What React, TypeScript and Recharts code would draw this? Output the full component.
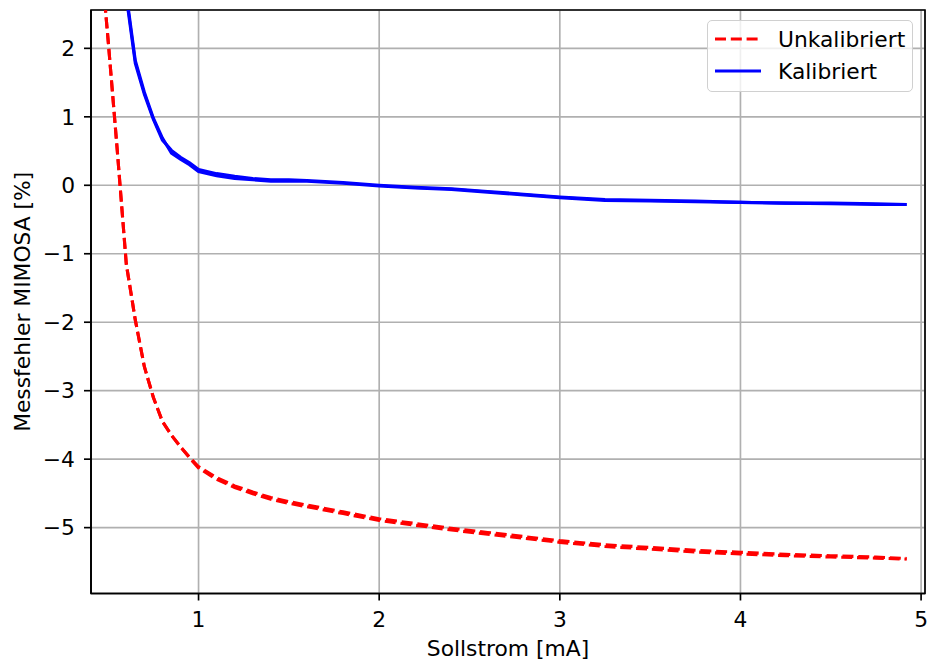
import {
  LineChart,
  Line,
  XAxis,
  YAxis,
  CartesianGrid,
  Legend,
  ReferenceArea,
} from "recharts";

// Sollstrom in mA
const currentMa = [
  0.45, 0.5, 0.55, 0.6, 0.65, 0.7, 0.75, 0.8, 0.85, 0.9, 0.95, 1.0, 1.1, 1.2,
  1.3, 1.4, 1.5, 1.6, 1.8, 2.0, 2.2, 2.4, 2.6, 2.8, 3.0, 3.25, 3.5, 3.75, 4.0,
  4.25, 4.5, 4.75, 4.92,
];

// Messfehler in %, Hin- und Rücklauf
const uncalibratedUp = [
  3.6, 2.1, 0.51, -1.15, -1.97, -2.65, -3.1, -3.45, -3.65, -3.82, -3.97,
  -4.11, -4.27, -4.39, -4.48, -4.56, -4.62, -4.67, -4.77, -4.87, -4.94, -5.01,
  -5.07, -5.13, -5.19, -5.25, -5.29, -5.33, -5.36, -5.39, -5.41, -5.43, -5.45,
];
const uncalibratedDown = [
  3.6, 2.1, 0.51, -1.15, -1.97, -2.65, -3.1, -3.45, -3.65, -3.82, -3.98,
  -4.13, -4.295, -4.415, -4.505, -4.585, -4.645, -4.695, -4.795, -4.895,
  -4.965, -5.035, -5.095, -5.155, -5.215, -5.275, -5.315, -5.355, -5.385,
  -5.41, -5.43, -5.445, -5.46,
];

const calibratedUp = [
  null, null, 4.5, 2.75, 1.78, 1.33, 0.96, 0.66, 0.51, 0.41, 0.33, 0.23, 0.17,
  0.13, 0.1, 0.08, 0.08, 0.07, 0.04, 0.0, -0.03, -0.05, -0.09, -0.13, -0.17,
  -0.21, -0.22, -0.23, -0.25, -0.26, -0.26, -0.27, -0.28,
];
const calibratedDown = [
  null, null, 4.6, 2.8, 1.82, 1.36, 0.98, 0.69, 0.47, 0.38, 0.3, 0.2, 0.14,
  0.1, 0.08, 0.06, 0.06, 0.06, 0.03, -0.01, -0.04, -0.06, -0.1, -0.14, -0.18,
  -0.22, -0.23, -0.24, -0.25, -0.26, -0.27, -0.28, -0.28,
];

const xTicks = [1, 2, 3, 4, 5];
const yTicks = [-5, -4, -3, -2, -1, 0, 1, 2];
const xDomain: [number, number] = [0.4046, 5.0216];
const yDomain: [number, number] = [-5.962, 2.56];

const legendItems = [
  { name: "Unkalibriert", color: "#ff0000", dash: "11 4.8" },
  { name: "Kalibriert", color: "#0000ff", dash: undefined },
];

const data = currentMa.map((x, i) => ({
  x,
  unkalUp: uncalibratedUp[i],
  unkalDown: uncalibratedDown[i],
  kalUp: calibratedUp[i],
  kalDown: calibratedDown[i],
}));

const FONT = "DejaVu Sans";
const FS = 21.8;

const fmt = (v: number) => (v < 0 ? `\u2212${Math.abs(v)}` : `${v}`);

function LegendBox() {
  return (
    <div
      style={{
        width: 206,
        height: 72,
        boxSizing: "border-box",
        border: "1.5px solid #d0d0d0",
        borderRadius: 5,
        background: "rgba(255,255,255,0.8)",
      }}
    >
      <svg width={204} height={69} style={{ display: "block" }}>
        {legendItems.map((item, i) => {
          const y = 18 + i * 32;
          return (
            <g key={item.name}>
              <line
                x1={7}
                x2={53}
                y1={y}
                y2={y}
                stroke={item.color}
                strokeWidth={3.1}
                strokeDasharray={item.dash}
              />
              <text
                x={70}
                y={y}
                dominantBaseline="central"
                fontFamily={FONT}
                fontSize={FS}
                fill="#000"
              >
                {item.name}
              </text>
            </g>
          );
        })}
      </svg>
    </div>
  );
}

export default function App() {
  return (
    <div style={{ position: "absolute", left: 0, top: 0, background: "#fff" }}>
      <LineChart
        width={932}
        height={664}
        data={data}
        margin={{ top: 10, right: 7, bottom: 0, left: 0 }}
      >
        <CartesianGrid stroke="#b0b0b0" strokeWidth={1.67} />
        <XAxis
          dataKey="x"
          type="number"
          domain={xDomain}
          allowDataOverflow
          ticks={xTicks}
          tickFormatter={fmt}
          height={70.5}
          tickSize={7}
          tickMargin={11}
          tick={{ fill: "#000", fontSize: FS, fontFamily: FONT }}
          tickLine={{ stroke: "#000", strokeWidth: 1.67 }}
          axisLine={{ stroke: "#000", strokeWidth: 1.67 }}
          label={{
            value: "Sollstrom [mA]",
            position: "insideBottom",
            offset: 8,
            fill: "#000",
            fontSize: FS,
            fontFamily: FONT,
          }}
        />
        <YAxis
          type="number"
          domain={yDomain}
          allowDataOverflow
          ticks={yTicks}
          tickFormatter={fmt}
          width={91}
          tickSize={7}
          tickMargin={9}
          tick={{ fill: "#000", fontSize: FS, fontFamily: FONT }}
          tickLine={{ stroke: "#000", strokeWidth: 1.67 }}
          axisLine={{ stroke: "#000", strokeWidth: 1.67 }}
          label={{
            value: "Messfehler MIMOSA [%]",
            angle: -90,
            position: "insideLeft",
            offset: 22,
            style: { textAnchor: "middle" },
            fill: "#000",
            fontSize: FS,
            fontFamily: FONT,
          }}
        />
        <Line
          dataKey="unkalUp"
          stroke="#ff0000"
          strokeWidth={3.1}
          strokeDasharray="11 4.8"
          dot={false}
          activeDot={false}
          isAnimationActive={false}
        />
        <Line
          dataKey="unkalDown"
          stroke="#ff0000"
          strokeWidth={3.1}
          strokeDasharray="11 4.8"
          dot={false}
          activeDot={false}
          isAnimationActive={false}
        />
        <Line
          dataKey="kalUp"
          stroke="#0000ff"
          strokeWidth={3.1}
          dot={false}
          activeDot={false}
          isAnimationActive={false}
        />
        <Line
          dataKey="kalDown"
          stroke="#0000ff"
          strokeWidth={3.1}
          dot={false}
          activeDot={false}
          isAnimationActive={false}
        />
        <ReferenceArea
          x1={xDomain[0]}
          x2={xDomain[1]}
          y1={yDomain[0]}
          y2={yDomain[1]}
          fill="none"
          fillOpacity={0}
          stroke="#000"
          strokeWidth={1.67}
          ifOverflow="visible"
        />
        <Legend
          layout="horizontal"
          verticalAlign="middle"
          align="center"
          content={() => <LegendBox />}
          wrapperStyle={{ left: 707, top: 20, width: 206, height: 72 }}
        />
      </LineChart>
    </div>
  );
}
